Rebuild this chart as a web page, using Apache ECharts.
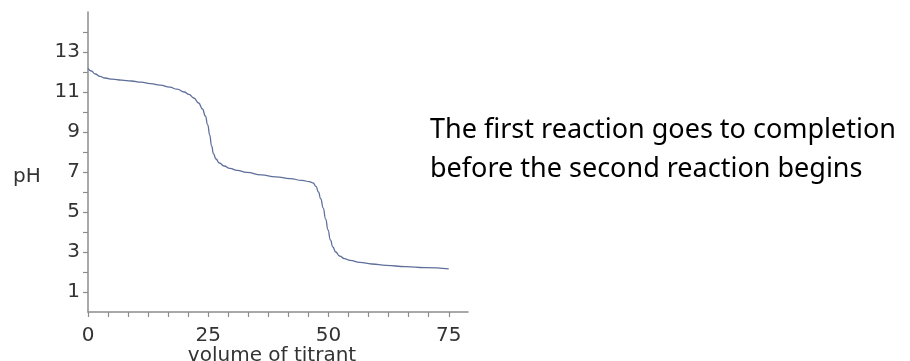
<!DOCTYPE html>
<html>
<head>
<meta charset="utf-8">
<script src="https://cdn.jsdelivr.net/npm/echarts@6/dist/echarts.min.js"></script>
<style>
html,body{margin:0;padding:0;background:#fff;}
#chart{width:910px;height:361px;}
</style>
</head>
<body>
<div id="chart"></div>
<script>
// Titration curve data (volume of titrant, pH)
const volume = [0, 0.7, 1.5, 2.5, 3.5, 5, 7, 9, 11, 13, 15, 17, 18.5, 20, 21, 22, 23, 23.8, 24.4, 24.9, 25.3, 25.7, 26.1, 26.6, 27.3, 28.3, 29.5, 31, 33, 36, 39, 42, 44.5, 46, 46.8, 47.4, 47.9, 48.4, 48.9, 49.4, 49.9, 50.4, 50.9, 51.5, 52.3, 53.3, 54.5, 56.5, 59, 62, 66, 70, 75];
const pH = [12.18, 12.05, 11.9, 11.78, 11.7, 11.64, 11.59, 11.55, 11.49, 11.42, 11.34, 11.24, 11.14, 11.0, 10.88, 10.7, 10.45, 10.15, 9.8, 9.35, 8.85, 8.3, 7.9, 7.65, 7.45, 7.3, 7.18, 7.08, 6.98, 6.86, 6.76, 6.67, 6.58, 6.52, 6.45, 6.28, 6.0, 5.65, 5.2, 4.65, 4.1, 3.6, 3.25, 3.0, 2.8, 2.67, 2.58, 2.48, 2.4, 2.33, 2.27, 2.22, 2.16];

const xTickLabels = [0, 25, 50, 75];
const xMinorPerMajor = 6;
const yTickLabels = [1, 3, 5, 7, 9, 11, 13];
const yTicks = [1, 2, 3, 4, 5, 6, 7, 8, 9, 10, 11, 12, 13, 14];

const annotationLines = ['The first reaction goes to completion', 'before the second reaction begins'];
const xName = 'volume of titrant';
const yName = 'pH';

const xTicks = [];
for (let i = 0; i < xTickLabels.length - 1; i++) {
  const a = xTickLabels[i], b = xTickLabels[i + 1];
  for (let k = 0; k < xMinorPerMajor; k++) xTicks.push(a + (b - a) * k / xMinorPerMajor);
}
xTicks.push(xTickLabels[xTickLabels.length - 1]);

const data = volume.map((v, i) => [v, pH[i]]);

const chart = echarts.init(document.getElementById('chart'), null, {renderer: 'canvas'});
const axisColor = '#8c8c8c';
const labelFont = 'DejaVu Sans';
chart.setOption({
  animation: false,
  grid: {left: 88, top: 12, width: 380, height: 300, containLabel: false},
  xAxis: {
    type: 'value', min: 0, max: 79,
    axisLine: {show: true, onZero: false, lineStyle: {color: axisColor, width: 1.5}},
    axisTick: {show: true, length: 5, customValues: xTicks, lineStyle: {color: axisColor, width: 1.2}},
    axisLabel: {customValues: xTickLabels, color: '#333', fontFamily: labelFont, fontSize: 20, margin: 14},
    splitLine: {show: false}
  },
  yAxis: {
    type: 'value', min: 0, max: 15,
    axisLine: {show: true, onZero: false, lineStyle: {color: axisColor, width: 1.5}},
    axisTick: {show: true, length: 5, customValues: yTicks, lineStyle: {color: axisColor, width: 1.2}},
    axisLabel: {customValues: yTickLabels, color: '#333', fontFamily: labelFont, fontSize: 20, margin: 8},
    splitLine: {show: false}
  },
  series: [{
    type: 'line', data: data, showSymbol: false, smooth: 0.5, smoothMonotone: 'x',
    lineStyle: {color: '#5f6f9b', width: 1.3}
  }],
  graphic: [
    {type: 'text', left: 13, top: 167, style: {text: yName, font: '20px "DejaVu Sans"', fill: '#333'}},
    {type: 'text', x: 272, y: 366, style: {text: xName, font: '20px "DejaVu Sans"', fill: '#333', textAlign: 'center', textVerticalAlign: 'bottom'}},
    {type: 'text', x: 430, y: 130, style: {text: annotationLines[0], font: '27px "Noto Sans"', fill: '#000', textAlign: 'left', textVerticalAlign: 'middle'}},
    {type: 'text', x: 430, y: 169, style: {text: annotationLines[1], font: '27px "Noto Sans"', fill: '#000', textAlign: 'left', textVerticalAlign: 'middle'}}
  ]
});
</script>
</body>
</html>
